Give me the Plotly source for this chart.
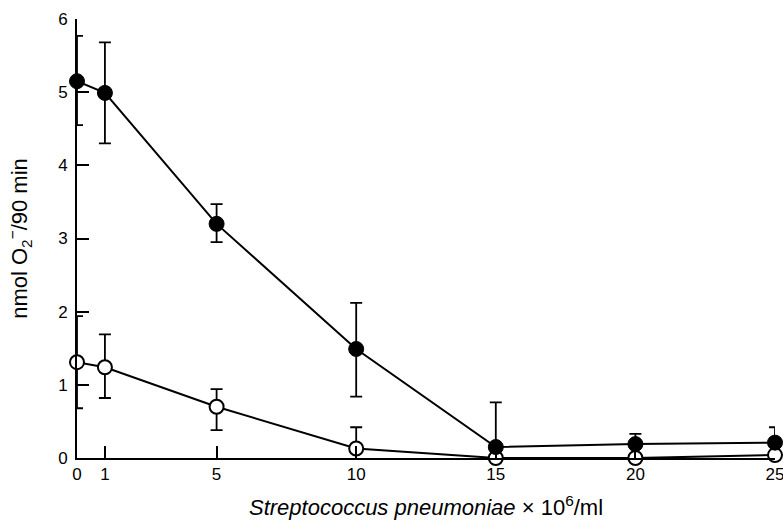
import plotly.graph_objects as go

# Data
x_vals = [0, 1, 5, 10, 15, 20, 25]
filled_y = [5.15, 4.99, 3.20, 1.49, 0.15, 0.19, 0.21]
filled_err_plus = [0.62, 0.69, 0.27, 0.63, 0.61, 0.14, 0.21]
filled_err_minus = [0.60, 0.69, 0.25, 0.65, 0.0, 0.0, 0.0]
open_y = [1.31, 1.24, 0.70, 0.13, 0.0, 0.0, 0.04]
open_err_plus = [0.63, 0.45, 0.24, 0.29, 0.0, 0.0, 0.0]
open_err_minus = [0.63, 0.42, 0.32, 0.0, 0.0, 0.0, 0.0]
x_ticks = [0, 1, 5, 10, 15, 20, 25]
y_ticks = [0, 1, 2, 3, 4, 5, 6]

FONT = "Liberation Sans, Arial, sans-serif"

fig = go.Figure()

fig.add_trace(go.Scatter(
    x=x_vals, y=open_y, mode="lines+markers",
    line=dict(color="black", width=2),
    marker=dict(symbol="circle", size=14, color="white",
                line=dict(color="black", width=2)),
    error_y=dict(type="data", symmetric=False, array=open_err_plus,
                 arrayminus=open_err_minus, color="black", thickness=1.8, width=6),
    cliponaxis=False, showlegend=False,
))

fig.add_trace(go.Scatter(
    x=x_vals, y=filled_y, mode="lines+markers",
    line=dict(color="black", width=2),
    marker=dict(symbol="circle", size=15, color="black",
                line=dict(color="black", width=1)),
    error_y=dict(type="data", symmetric=False, array=filled_err_plus,
                 arrayminus=filled_err_minus, color="black", thickness=1.8, width=6),
    cliponaxis=False, showlegend=False,
))

fig.update_layout(
    width=783, height=521,
    margin=dict(l=77, r=8, t=19, b=63, autoexpand=False),
    paper_bgcolor="white", plot_bgcolor="white",
    font=dict(family=FONT, color="black", size=17),
    xaxis=dict(
        range=[0, 25], tickvals=x_ticks, ticktext=[str(v) for v in x_ticks],
        ticks="inside", ticklen=12, tickwidth=1.8, tickcolor="black",
        showline=True, linecolor="black", linewidth=2,
        showgrid=False, zeroline=False, automargin=False,
        ticklabeloverflow="allow",
        tickfont=dict(size=17, family=FONT),
        title=dict(text="<i>Streptococcus pneumoniae</i> × 10<sup>6</sup>/ml",
                   font=dict(size=22, family=FONT), standoff=16),
    ),
    yaxis=dict(
        range=[0, 6], tickvals=y_ticks, ticktext=[str(v) for v in y_ticks],
        ticks="inside", ticklen=12, tickwidth=1.8, tickcolor="black",
        showline=True, linecolor="black", linewidth=2,
        showgrid=False, zeroline=False, automargin=False,
        ticklabeloverflow="allow", ticklabelstandoff=4,
        tickfont=dict(size=17, family=FONT),
        title=dict(text="nmol O<sub>2</sub><sup>−</sup>/90 min",
                   font=dict(size=22, family=FONT), standoff=24),
    ),
)

# Remove the default page margin so the figure sits at the window's corner.
fig.write_html(
    "out.html",
    config={"displayModeBar": False},
    post_script="document.documentElement.style.margin='0';"
                "document.body.style.margin='0';"
                "document.body.style.overflow='hidden';",
)
